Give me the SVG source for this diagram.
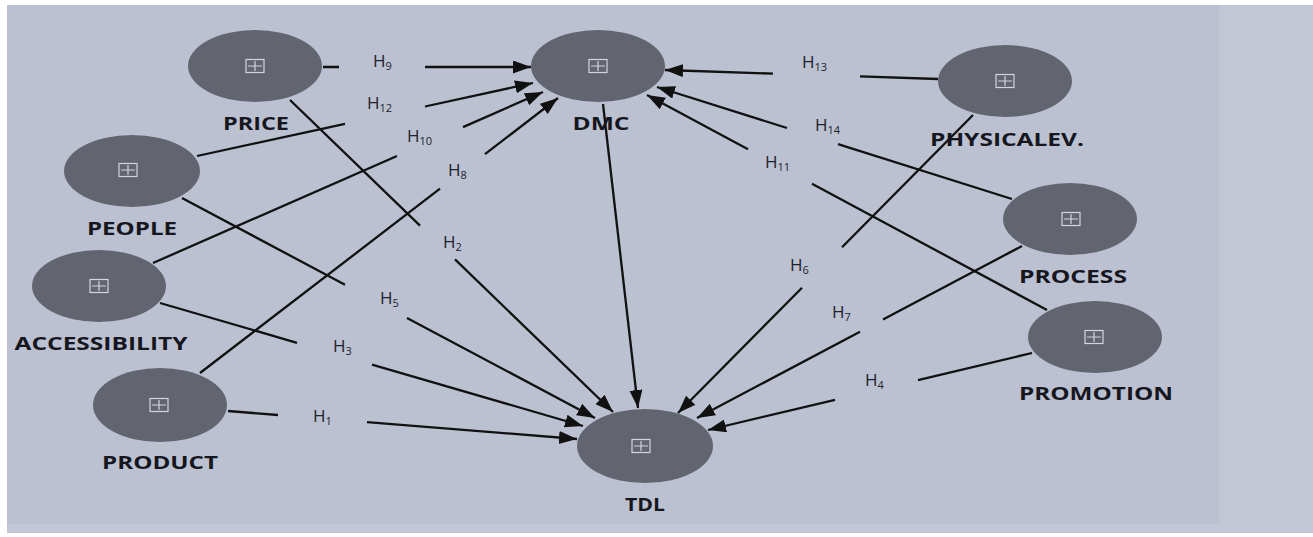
<svg xmlns="http://www.w3.org/2000/svg" width="1313" height="537" viewBox="0 0 1313 537">
<style>
.node{fill:#62656f;}
.icon{fill:none;stroke:#d4d6de;stroke-width:1.2;}
.lbl{font-family:"Open Sans","Liberation Sans",sans-serif;font-weight:bold;font-size:17px;fill:#16161e;text-anchor:middle;}
.h{font-family:"Open Sans","Liberation Sans",sans-serif;font-size:17px;fill:#22222c;}
.sub{font-size:11px;}
.con{fill:none;stroke:#111;stroke-width:2.3;marker-end:url(#arr);}
</style>
<defs>
<marker id="arr" markerUnits="userSpaceOnUse" markerWidth="20" markerHeight="14" refX="18" refY="6.5" orient="auto">
<path d="M0,0 L18,6.5 L0,13 Z" fill="#111"/>
</marker>
<g id="ic"><rect class="icon" x="-9" y="-6.5" width="18" height="13"/><path class="icon" d="M0,-5 V5 M-7,0 H7"/></g>
</defs>
<rect x="0" y="0" width="1313" height="537" fill="#ffffff"/>
<rect x="7" y="5" width="1306" height="528" fill="#c2c7d6"/>
<rect x="7" y="5" width="1212" height="519" fill="#bbc1d1"/>

<g id="connectors">
<path class="con" d="M323,67 L339,67 M425,67 L531,67"/>
<path class="con" d="M197,156 L345,123.8 M425,106.5 L533,83"/>
<path class="con" d="M153,263 L397,156 M463,127.1 L543,92"/>
<path class="con" d="M200,373 L440,188.7 M485,154.1 L558,98"/>
<path class="con" d="M290,100 L420,225.6 M455,259.4 L613,412"/>
<path class="con" d="M182,198 L345,284.8 M407,317.9 L595,418"/>
<path class="con" d="M160,303 L297,342.8 M372,364.6 L583,426"/>
<path class="con" d="M228,411 L278,415 M367,422.1 L577,439"/>
<path class="con" d="M603,104 L638,408"/>
<path class="con" d="M938,79 L860,76.4 M773,73.6 L665,70"/>
<path class="con" d="M1012,199 L838,144.1 M787,128 L657,87"/>
<path class="con" d="M1047,310 L812,183.7 M748,149.3 L647,95"/>
<path class="con" d="M973,115 L842,247.3 M802,287.7 L678,413"/>
<path class="con" d="M1022,246 L883,319.6 M860,331.7 L697,418"/>
<path class="con" d="M1032,353 L918,380.1 M835,399.8 L708,430"/>
</g>

<g id="hlabels">
<text class="h" x="373" y="67">H<tspan class="sub" dy="3">9</tspan></text>
<text class="h" x="367" y="109">H<tspan class="sub" dy="3">12</tspan></text>
<text class="h" x="407" y="142">H<tspan class="sub" dy="3">10</tspan></text>
<text class="h" x="448" y="176">H<tspan class="sub" dy="3">8</tspan></text>
<text class="h" x="443" y="248">H<tspan class="sub" dy="3">2</tspan></text>
<text class="h" x="380" y="304">H<tspan class="sub" dy="3">5</tspan></text>
<text class="h" x="333" y="352">H<tspan class="sub" dy="3">3</tspan></text>
<text class="h" x="313" y="422">H<tspan class="sub" dy="3">1</tspan></text>
<text class="h" x="802" y="68">H<tspan class="sub" dy="3">13</tspan></text>
<text class="h" x="815" y="131">H<tspan class="sub" dy="3">14</tspan></text>
<text class="h" x="765" y="168">H<tspan class="sub" dy="3">11</tspan></text>
<text class="h" x="790" y="271">H<tspan class="sub" dy="3">6</tspan></text>
<text class="h" x="832" y="318">H<tspan class="sub" dy="3">7</tspan></text>
<text class="h" x="865" y="386">H<tspan class="sub" dy="3">4</tspan></text>
</g>

<g id="node-price"><ellipse class="node" cx="255" cy="66" rx="67" ry="36"/><use href="#ic" x="255" y="66"/><text class="lbl" x="256" y="130" textLength="66" lengthAdjust="spacingAndGlyphs">PRICE</text></g>
<g id="node-dmc"><ellipse class="node" cx="598" cy="66" rx="67" ry="36"/><use href="#ic" x="598" y="66"/><text class="lbl" x="601" y="130" textLength="57" lengthAdjust="spacingAndGlyphs">DMC</text></g>
<g id="node-physicalev"><ellipse class="node" cx="1005" cy="81" rx="67" ry="36"/><use href="#ic" x="1005" y="81"/><text class="lbl" x="1007" y="146" textLength="154" lengthAdjust="spacingAndGlyphs">PHYSICALEV.</text></g>
<g id="node-people"><ellipse class="node" cx="132" cy="171" rx="68" ry="36"/><use href="#ic" x="128" y="170"/><text class="lbl" x="132" y="235" textLength="90" lengthAdjust="spacingAndGlyphs">PEOPLE</text></g>
<g id="node-accessibility"><ellipse class="node" cx="99" cy="286" rx="67" ry="36"/><use href="#ic" x="99" y="286"/><text class="lbl" x="101" y="350" textLength="173" lengthAdjust="spacingAndGlyphs">ACCESSIBILITY</text></g>
<g id="node-product"><ellipse class="node" cx="160" cy="405" rx="67" ry="37"/><use href="#ic" x="159" y="405"/><text class="lbl" x="160" y="469" textLength="116" lengthAdjust="spacingAndGlyphs">PRODUCT</text></g>
<g id="node-tdl"><ellipse class="node" cx="645" cy="446" rx="68" ry="37"/><use href="#ic" x="641" y="446"/><text class="lbl" x="645" y="511" textLength="40" lengthAdjust="spacingAndGlyphs">TDL</text></g>
<g id="node-process"><ellipse class="node" cx="1070" cy="219" rx="67" ry="36"/><use href="#ic" x="1071" y="219"/><text class="lbl" x="1073" y="283" textLength="108" lengthAdjust="spacingAndGlyphs">PROCESS</text></g>
<g id="node-promotion"><ellipse class="node" cx="1095" cy="337" rx="67" ry="36"/><use href="#ic" x="1094" y="337"/><text class="lbl" x="1096" y="400" textLength="154" lengthAdjust="spacingAndGlyphs">PROMOTION</text></g>
</svg>
